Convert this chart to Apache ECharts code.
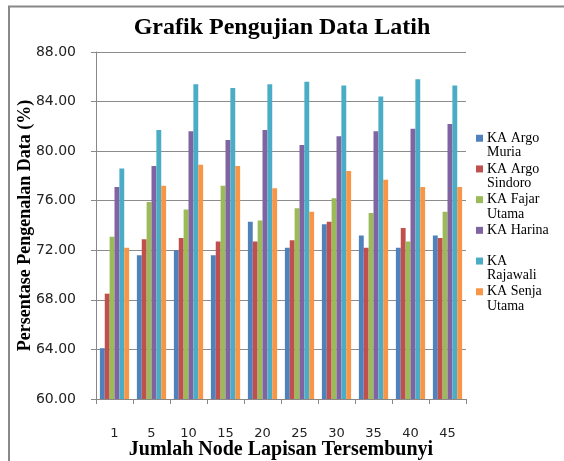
<!DOCTYPE html>
<html>
<head>
<meta charset="utf-8">
<script src="https://cdn.jsdelivr.net/npm/echarts@6/dist/echarts.min.js"></script>
<style>
  html, body { margin: 0; padding: 0; background: #fff; }
  #chart { width: 564px; height: 461px; }
</style>
</head>
<body>
<div id="chart"></div>
<script>
// Number of hidden-layer nodes tested
const categories = ['1', '5', '10', '15', '20', '25', '30', '35', '40', '45'];

// Recognition rate (%) per train, one value per node count
const argoMuria   = [64.1, 71.6, 72.0, 71.6, 74.3, 72.2, 74.1, 73.2, 72.2, 73.2];
const argoSindoro = [68.5, 72.9, 73.0, 72.7, 72.7, 72.8, 74.3, 72.2, 73.8, 73.0];
const fajarUtama  = [73.1, 75.9, 75.3, 77.2, 74.4, 75.4, 76.2, 75.0, 72.7, 75.1];
const harina      = [77.1, 78.8, 81.6, 80.9, 81.7, 80.5, 81.2, 81.6, 81.8, 82.2];
const rajawali    = [78.6, 81.7, 85.4, 85.1, 85.4, 85.6, 85.3, 84.4, 85.8, 85.3];
const senjaUtama  = [72.2, 77.2, 78.9, 78.8, 77.0, 75.1, 78.4, 77.7, 77.1, 77.1];

const seriesNames = ['KA Argo Muria', 'KA Argo Sindoro', 'KA Fajar Utama', 'KA Harina', 'KA Rajawali', 'KA Senja Utama'];
const seriesData  = [argoMuria, argoSindoro, fajarUtama, harina, rajawali, senjaUtama];
const colors      = ['#4F81BD', '#C0504D', '#9BBB59', '#8064A2', '#4BACC6', '#F79646'];

// Legend labels wrap over two lines, as in the boxed legend at the right
const legendLines = {
  'KA Argo Muria':   ['KA Argo', 'Muria'],
  'KA Argo Sindoro': ['KA Argo', 'Sindoro'],
  'KA Fajar Utama':  ['KA Fajar', 'Utama'],
  'KA Harina':       ['KA Harina', ''],
  'KA Rajawali':     ['KA', 'Rajawali'],
  'KA Senja Utama':  ['KA Senja', 'Utama']
};

const yTicks = { min: 60, max: 88, step: 4 };

const chart = echarts.init(document.getElementById('chart'), null, { renderer: 'canvas' });

const serif = '"Liberation Serif", "Times New Roman", serif';
const sans = '"DejaVu Sans", sans-serif';

chart.setOption({
  animation: false,
  backgroundColor: '#fff',
  color: colors,
  title: {
    text: 'Grafik Pengujian Data Latih',
    left: 'center',
    top: 11,
    textStyle: { fontFamily: serif, fontWeight: 'bold', fontSize: 24, color: '#000' }
  },
  graphic: [{
    type: 'rect',
    shape: { x: 9, y: 6.5, width: 620, height: 520 },
    style: { fill: 'none', stroke: '#888', lineWidth: 2 },
    silent: true
  }],
  legend: {
    orient: 'vertical',
    left: 476,
    top: 116.5,
    padding: 0,
    itemWidth: 7,
    itemHeight: 7,
    itemGap: -12.8,
    icon: 'rect',
    data: seriesNames,
    formatter: name => '\n' + legendLines[name].join('\n'),
    textStyle: { fontFamily: serif, fontSize: 14, color: '#000', lineHeight: 14.5, padding: [0, 0, 0, -1] }
  },
  grid: { left: 96, right: 98, top: 52, bottom: 62, containLabel: false, outerBoundsMode: 'none' },
  xAxis: {
    type: 'category',
    data: categories,
    name: 'Jumlah Node Lapisan Tersembunyi',
    nameLocation: 'middle',
    nameGap: 41,
    nameMoveOverlap: false,
    nameTextStyle: { fontFamily: serif, fontWeight: 'bold', fontSize: 20, color: '#000' },
    axisLine: { lineStyle: { color: '#888', width: 1 } },
    axisTick: { show: true, alignWithLabel: false, length: 5, lineStyle: { color: '#888' } },
    axisLabel: { margin: 28, fontFamily: sans, fontSize: 13, color: '#222' },
    splitLine: { show: false }
  },
  yAxis: {
    type: 'value',
    min: yTicks.min,
    max: yTicks.max,
    interval: yTicks.step,
    name: 'Persentase Pengenalan Data (%)',
    nameLocation: 'middle',
    nameGap: 62,
    nameRotate: 90,
    nameMoveOverlap: false,
    nameTextStyle: { fontFamily: serif, fontWeight: 'bold', fontSize: 18, color: '#000' },
    axisLine: { show: true, lineStyle: { color: '#888', width: 1 } },
    axisTick: { show: true, length: 5, lineStyle: { color: '#888' } },
    axisLabel: { margin: 20, fontFamily: sans, fontSize: 14, color: '#222', formatter: v => v.toFixed(2) },
    splitLine: { show: true, lineStyle: { color: '#8c8c8c', width: 1 } }
  },
  series: seriesNames.map((name, i) => ({
    name: name,
    type: 'bar',
    data: seriesData[i],
    barGap: '0%',
    barCategoryGap: '21%',
    itemStyle: { color: colors[i] }
  }))
});
</script>
</body>
</html>
